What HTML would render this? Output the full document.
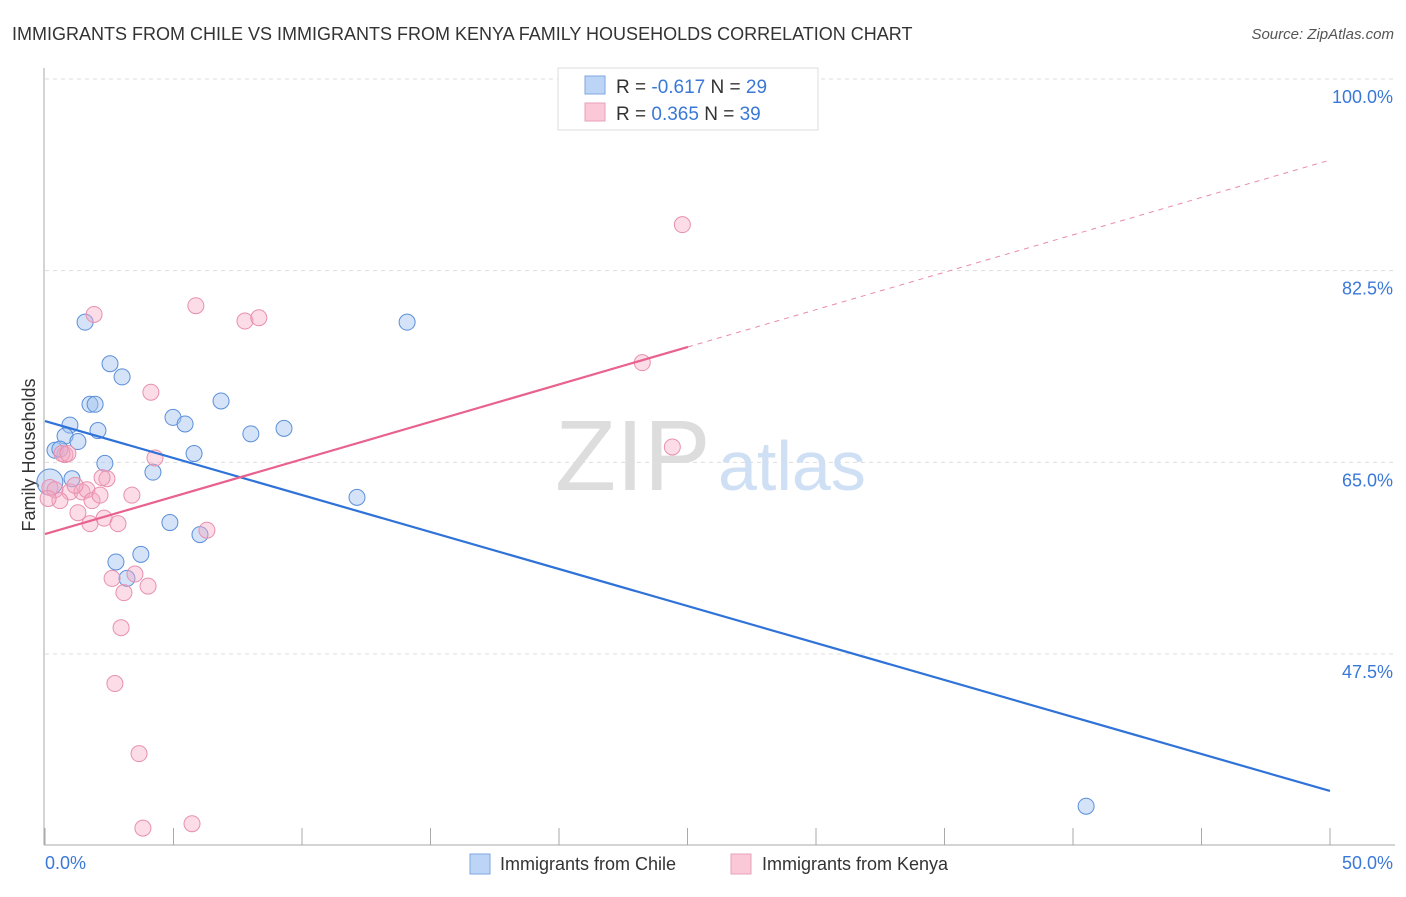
<!DOCTYPE html>
<html><head><meta charset="utf-8"><style>
body{margin:0;background:#fff;font-family:"Liberation Sans",sans-serif}
svg text{font-family:"Liberation Sans",sans-serif}
</style></head><body>
<svg width="1406" height="892">
<text x="12" y="40" font-size="18" fill="#333">IMMIGRANTS FROM CHILE VS IMMIGRANTS FROM KENYA FAMILY HOUSEHOLDS CORRELATION CHART</text>
<text x="1394" y="39" font-size="15" fill="#555" font-style="italic" text-anchor="end">Source: ZipAtlas.com</text>
<g id="grid"></g>
<line x1="44" y1="68" x2="44" y2="845" stroke="#aaa"/>
<line x1="44" y1="845" x2="1395" y2="845" stroke="#aaa"/>
<text x="555" y="490" font-size="100" fill="#ddd" font-family="Liberation Serif">ZIP</text>
<text x="718" y="490" font-size="70" fill="#cfe0f5">atlas</text>
<text x="35" y="455" font-size="18" fill="#333" text-anchor="middle" transform="rotate(-90 35 455)">Family Households</text>
<text x="45" y="869" font-size="18" fill="#3a78d8">0.0%</text>
<text x="1393" y="869" font-size="18" fill="#3a78d8" text-anchor="end">50.0%</text>
<g id="marks"></g>
<g>
<rect x="558" y="68" width="260" height="62" fill="#fff" stroke="#ddd"/>
<rect x="585" y="76" width="20" height="18" fill="#bcd4f6" stroke="#7fa7e0"/>
<rect x="585" y="103" width="20" height="18" fill="#fbc8d8" stroke="#eaa0b9"/>
<text x="616" y="93" font-size="19" fill="#333">R = <tspan fill="#3a78d8">-0.617</tspan>   N = <tspan fill="#3a78d8">29</tspan></text>
<text x="616" y="120" font-size="19" fill="#333">R =  <tspan fill="#3a78d8">0.365</tspan>   N = <tspan fill="#3a78d8">39</tspan></text>
</g>
<g>
<rect x="470" y="854" width="20" height="20" fill="#bcd4f6" stroke="#7fa7e0"/>
<text x="500" y="870" font-size="18" fill="#333">Immigrants from Chile</text>
<rect x="731" y="854" width="20" height="20" fill="#fbc8d8" stroke="#eaa0b9"/>
<text x="762" y="870" font-size="18" fill="#333">Immigrants from Kenya</text>
</g>
</svg>
<script>
const yTicks=[100,82.5,65,47.5];
const yTickLabels=["100.0%","82.5%","65.0%","47.5%"];
const chileX=[1.56,2.53,3.0,1.75,1.95,0.97,0.78,2.06,1.28,0.39,0.58,4.98,5.45,6.85,8.01,9.3,14.09,5.80,2.33,4.2,1.05,12.14,4.86,6.03,2.76,3.73,3.19,40.51,0.19];
const chileY=[77.8,74.0,72.8,70.3,70.3,68.4,67.4,67.9,66.9,66.1,66.2,69.1,68.5,70.6,67.6,68.1,77.8,65.8,64.9,64.1,63.5,61.8,59.5,58.4,55.9,56.6,54.4,33.6,63.2];
const kenyaX=[1.91,5.87,7.78,8.32,24.8,23.24,4.12,24.41,4.28,0.78,0.66,0.89,0.19,0.39,0.97,1.44,1.63,2.41,2.22,1.83,1.28,3.38,2.30,2.84,1.75,6.3,2.61,3.5,4.01,3.07,2.96,2.72,3.66,3.81,5.72,0.58,0.12,1.17,2.14];
const kenyaY=[78.5,79.3,77.9,78.2,86.7,74.1,71.4,66.4,65.4,65.7,65.8,65.8,62.7,62.5,62.3,62.3,62.5,63.5,63.6,61.5,60.4,62.0,59.9,59.4,59.4,58.8,54.4,54.8,53.7,53.1,49.9,44.8,38.4,31.6,32.0,61.5,61.7,62.9,62.0];
const chileTrend=[68.77,34.99];
const kenyaTrend=[58.45,92.6];
const kenyaSolidEnd=25.02;
const X=p=>45+p/50*1285, Y=v=>79+(100-v)*10.952;
const NS="http://www.w3.org/2000/svg";
function mk(t,a,p){const e=document.createElementNS(NS,t);for(const k in a)e.setAttribute(k,a[k]);p.appendChild(e);return e;}
const grid=document.getElementById('grid'), marks=document.getElementById('marks');
yTicks.forEach((v,i)=>{
 const l=mk('line',{x1:45,x2:1395,y1:Y(v),y2:Y(v),stroke:'#ddd','stroke-dasharray':'4 4'},grid);
 
 
 const t=mk('text',{x:1393,y:Y(v)+24,'font-size':18,fill:'#3a78d8','text-anchor':'end'},grid);
 t.textContent=yTickLabels[i];
 
 
});
for(let i=0;i<=10;i++){
 const l=mk('line',{x1:X(i*5),x2:X(i*5),y1:828,y2:845,stroke:'#aaa'},grid);
 
 
}
chileX.forEach((x,i)=>{
 const c=mk('circle',{cx:X(x),cy:Y(chileY[i]),r:i==28?13:8,fill:'rgba(160,192,240,0.45)',stroke:'#5b8fd9','stroke-width':1},marks);
 
 
});
kenyaX.forEach((x,i)=>{
 const c=mk('circle',{cx:X(x),cy:Y(kenyaY[i]),r:8,fill:'rgba(246,168,194,0.4)',stroke:'#e890ae','stroke-width':1},marks);
 
 
});
const kAt=p=>kenyaTrend[0]+(kenyaTrend[1]-kenyaTrend[0])*p/50;
let l=mk('line',{x1:X(0),y1:Y(chileTrend[0]),x2:X(50),y2:Y(chileTrend[1]),stroke:'#2f72d8','stroke-width':2.2},marks);


l=mk('line',{x1:X(0),y1:Y(kAt(0)),x2:X(kenyaSolidEnd),y2:Y(kAt(kenyaSolidEnd)),stroke:'#e8628d','stroke-width':2.2},marks);


l=mk('line',{x1:X(kenyaSolidEnd),y1:Y(kAt(kenyaSolidEnd)),x2:X(50),y2:Y(kAt(50)),stroke:'#eb8aa9','stroke-width':1,'stroke-dasharray':'5 5'},marks);


</script>
</body></html>
